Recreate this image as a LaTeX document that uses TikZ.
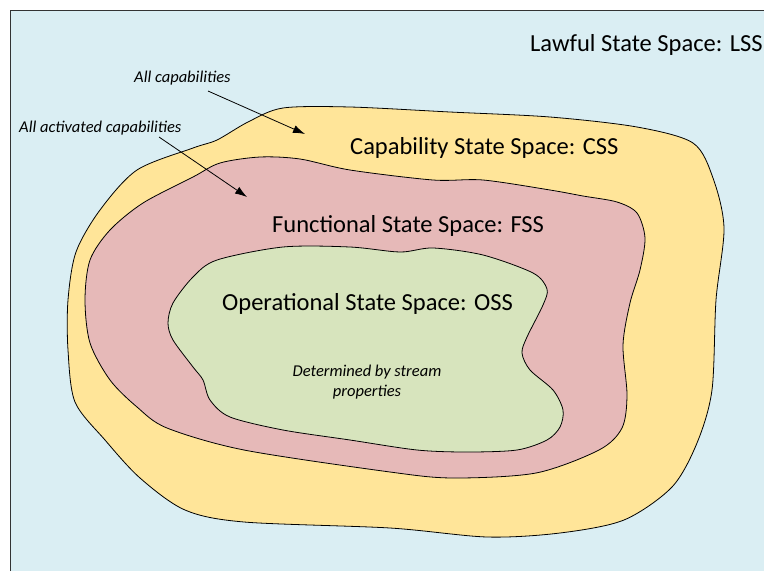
\documentclass[tikz,border=0pt]{standalone}
\usepackage{fontspec}
\setmainfont{Carlito}
\usepackage{xcolor}
\usepackage{tikz}
\usetikzlibrary{arrows.meta, positioning}

\definecolor{lssblue}{HTML}{DAEEF3}
\definecolor{cssyellow}{HTML}{FFE599}
\definecolor{fssred}{HTML}{E6B9B8}
\definecolor{ossgreen}{HTML}{D7E4BD}

\begin{document}
\begin{tikzpicture}[
    x=1pt, y=-1pt,
    space/.style={draw=black, line width=0.8pt},
    title/.style={font=\fontsize{24.5}{29}\selectfont, anchor=base west, inner sep=0pt},
    remark/.style={font=\fontsize{16.5}{20}\selectfont\itshape, inner sep=0pt},
    pointer/.style={-{Latex[length=12pt, width=8pt]}, line width=0.8pt}
]
\useasboundingbox (0,0) rectangle (764,571);

% Lawful state space (background)
\fill[lssblue] (10,10) rectangle (764,571);
\draw[line width=1pt, black!80] (10,571) -- (10,10) -- (764,10);

% Capability state space
\draw[space, fill=cssyellow] plot[smooth cycle] coordinates {
    (283,108) (350,107) (450,112) (550,117) (637,127) (693,143) (713,178)
    (724,228) (716,300) (712,390) (697,443) (672,487) (624,520) (560,533)
    (487,537) (390,528) (244,522) (185,510) (140,478) (105,440) (75,402)
    (68,350) (68,300) (76,252) (100,210) (137,170) (193,148) (217,140) (248,122)};

% Functional state space
\draw[space, fill=fssred] plot[smooth cycle] coordinates {
    (260,157) (300,159) (350,170) (433,180) (483,180) (550,190) (583,196)
    (617,202) (637,213) (645,238) (640,270) (630,303) (623,345) (627,395)
    (622,428) (599,450) (536,473) (453,478) (390,472) (244,450) (167,428)
    (137,407) (110,380) (90,343) (85,300) (90,260) (110,230) (143,203)
    (193,177) (220,163)};

% Operational state space
\draw[space, fill=ossgreen] plot[smooth cycle] coordinates {
    (217,260) (283,247) (350,247) (400,252) (433,248) (483,255) (533,273)
    (547,289) (543,305) (527,337) (522,353) (530,370) (553,390) (563,410)
    (560,427) (547,440) (517,450) (467,452) (417,450) (350,440) (283,430)
    (230,417) (210,400) (203,380) (193,367) (173,340) (168,323) (173,303)
    (193,277)};

% Labels
\node[title] (lss) at (530,51) {Lawful State Space: LSS};
\node[title] (css) at (350,154) {Capability State Space: CSS};
\node[title] (fss) at (272,232) {Functional State Space: FSS};
\node[title] (oss) at (222,310) {Operational State Space: OSS};

\node[remark, anchor=base west] (allcap) at (134,82) {All capabilities};
\node[remark, anchor=base west] (actcap) at (19,132) {All activated capabilities};
\node[remark, align=center] (stream) at (367,382) {Determined by stream\\properties};

% Pointers
\coordinate (capfrom) at (208,91);
\coordinate (capto) at (305,134);
\coordinate (actfrom) at (159,137);
\coordinate (actto) at (247,197);
\draw[pointer] (capfrom) -- (capto);
\draw[pointer] (actfrom) -- (actto);

\end{tikzpicture}
\end{document}
